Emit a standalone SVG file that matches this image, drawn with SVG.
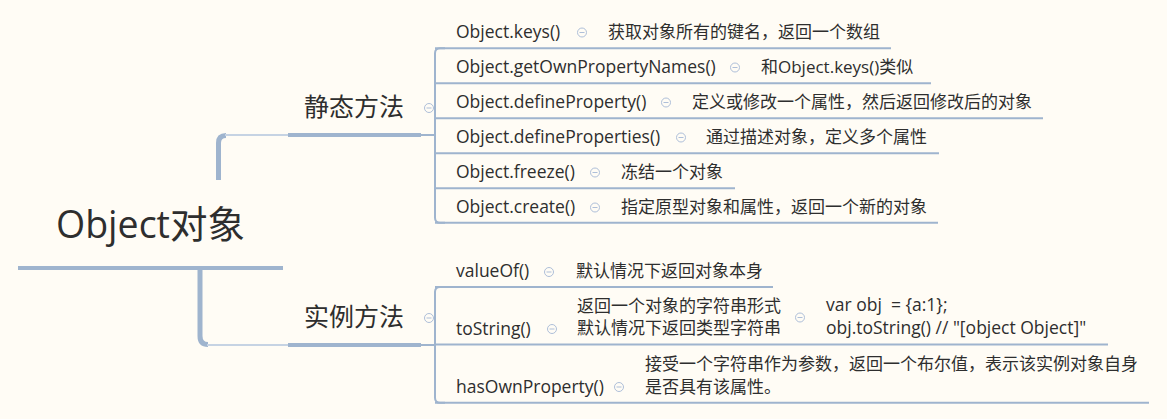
<svg xmlns="http://www.w3.org/2000/svg" width="1167" height="419" viewBox="0 0 1167 419">
<style>
.t{font-family:"Open Sans","Noto Sans CJK SC",sans-serif;fill:#2e2e2e;}
.c{font-size:17px;}
.m{font-size:17.5px;}
.b{font-size:25px;}
.r{font-size:37.5px;}
.ul{stroke:#9fb4ce;stroke-width:2;fill:none;}
.thick{stroke:#9fb4ce;stroke-width:4;fill:none;}
.conn{stroke:#9fb4ce;stroke-width:5;fill:none;}
.thin{stroke:#c6d3e3;stroke-width:2;fill:none;}
</style>
<defs>
<g id="col"><circle r="4.5" fill="#fffcf5" stroke="#aebfd9" stroke-width="1"/><line x1="-2.5" y1="0" x2="2.5" y2="0" stroke="#aebfd9" stroke-width="1"/></g>
</defs>
<rect width="1167" height="419" fill="#fffcf5"/>

<g id="connectors">
<path class="conn" d="M218.5 180 V143 Q218.5 135.5 226 135.5"/>
<line class="thin" x1="225" y1="135" x2="289" y2="135"/>
<path class="conn" d="M200 268 V336 Q200 344.5 208 344.5"/>
<line class="thin" x1="207" y1="345" x2="289" y2="345"/>
<line class="ul" x1="421" y1="135" x2="436" y2="135"/>
<line class="ul" x1="421" y1="345" x2="436" y2="345"/>
<path class="ul" d="M445 48.3 H440 Q435 48.3 435 53.3 V217.7 Q435 222.7 440 222.7 H445"/>
<path class="ul" d="M445 287 H440 Q435 287 435 292 V397.7 Q435 402.7 440 402.7 H445"/>
</g>

<g id="root">
<text class="t r" x="56" y="238">Object对象</text>
<line class="thick" x1="18" y1="268" x2="283" y2="268"/>
</g>

<g id="static">
<text class="t b" x="304" y="116">静态方法</text>
<line class="thick" x1="288" y1="135" x2="421" y2="135"/>
<use href="#col" x="429" y="108"/>
</g>

<g id="instance">
<text class="t b" x="304" y="326">实例方法</text>
<line class="thick" x1="288" y1="345" x2="421" y2="345"/>
<use href="#col" x="429" y="318"/>
</g>

<g id="keys">
<text class="t m" x="456" y="38">Object.keys()</text>
<use href="#col" x="582" y="32.5"/>
<text class="t c" x="608" y="38">获取对象所有的键名，返回一个数组</text>
<line class="ul" x1="435" y1="48.3" x2="891" y2="48.3"/>
</g>

<g id="getOwnPropertyNames">
<text class="t m" x="456" y="73">Object.getOwnPropertyNames()</text>
<use href="#col" x="735" y="67.5"/>
<text class="t c" x="761" y="73">和Object.keys()类似</text>
<line class="ul" x1="435" y1="83.3" x2="931" y2="83.3"/>
</g>

<g id="defineProperty">
<text class="t m" x="456" y="108">Object.defineProperty()</text>
<use href="#col" x="666" y="102.5"/>
<text class="t c" x="692" y="108">定义或修改一个属性，然后返回修改后的对象</text>
<line class="ul" x1="435" y1="118.3" x2="1043" y2="118.3"/>
</g>

<g id="defineProperties">
<text class="t m" x="456" y="143">Object.defineProperties()</text>
<use href="#col" x="681" y="137.5"/>
<text class="t c" x="706" y="143">通过描述对象，定义多个属性</text>
<line class="ul" x1="435" y1="153.3" x2="939" y2="153.3"/>
</g>

<g id="freeze">
<text class="t m" x="456" y="178">Object.freeze()</text>
<use href="#col" x="595" y="172.5"/>
<text class="t c" x="621" y="178">冻结一个对象</text>
<line class="ul" x1="435" y1="188.3" x2="735" y2="188.3"/>
</g>

<g id="create">
<text class="t m" x="456" y="213">Object.create()</text>
<use href="#col" x="595" y="207.5"/>
<text class="t c" x="621" y="213">指定原型对象和属性，返回一个新的对象</text>
<line class="ul" x1="435" y1="222.7" x2="938" y2="222.7"/>
</g>

<g id="valueOf">
<text class="t m" x="456" y="277">valueOf()</text>
<use href="#col" x="549" y="272"/>
<text class="t c" x="576" y="277">默认情况下返回对象本身</text>
<line class="ul" x1="435" y1="287" x2="773" y2="287"/>
</g>

<g id="toString">
<text class="t m" x="456" y="335">toString()</text>
<use href="#col" x="552" y="329"/>
<text class="t c" x="577" y="312">返回一个对象的字符串形式</text>
<text class="t c" x="577" y="334">默认情况下返回类型字符串</text>
<use href="#col" x="800" y="317.5"/>
<text class="t m" x="826" y="311" style="white-space:pre">var obj  = {a:1};</text>
<text class="t m" x="826" y="334">obj.toString() // "[object Object]"</text>
<line class="ul" x1="435" y1="344.5" x2="1108" y2="344.5"/>
</g>

<g id="hasOwnProperty">
<text class="t m" x="456" y="393">hasOwnProperty()</text>
<use href="#col" x="619" y="387"/>
<text class="t c" x="645" y="370">接受一个字符串作为参数，返回一个布尔值，表示该实例对象自身</text>
<text class="t c" x="645" y="393">是否具有该属性。</text>
<line class="ul" x1="435" y1="402.7" x2="1149" y2="402.7"/>
</g>
</svg>
